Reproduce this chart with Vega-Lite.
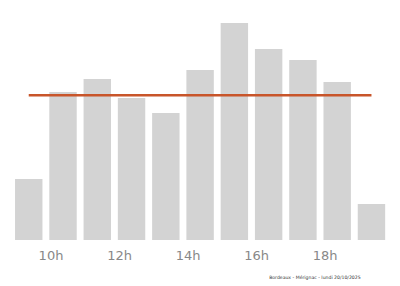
{
  "$schema": "https://vega.github.io/schema/vega-lite/v6.json",
  "width": 377,
  "height": 240,
  "autosize": {"type": "none"},
  "padding": {"left": 11.6, "top": 0, "right": 11.4, "bottom": 46},
  "background": "white",
  "config": {"view": {"stroke": null}},
  "title": {
    "text": "Bordeaux - Mérignac - lundi 20/10/2025",
    "orient": "bottom",
    "anchor": "end",
    "fontSize": 4.6,
    "fontWeight": "normal",
    "color": "#333",
    "font": "DejaVu Sans",
    "offset": 22,
    "dx": -28,
    "dy": -9
  },
  "data": {
    "values": [
      {"hour": 9, "value": 6.1},
      {"hour": 10, "value": 14.8},
      {"hour": 11, "value": 16.1},
      {"hour": 12, "value": 14.2},
      {"hour": 13, "value": 12.7},
      {"hour": 14, "value": 17.0},
      {"hour": 15, "value": 21.7},
      {"hour": 16, "value": 19.1},
      {"hour": 17, "value": 18.0},
      {"hour": 18, "value": 15.8},
      {"hour": 19, "value": 3.6}
    ]
  },
  "layer": [
    {
      "mark": {"type": "bar", "color": "#d3d3d3"},
      "encoding": {
        "x": {
          "field": "hour",
          "type": "ordinal",
          "scale": {"paddingInner": 0.2, "paddingOuter": 0.1},
          "axis": {
            "title": null,
            "domain": false,
            "ticks": false,
            "labelOffset": -12,
            "labelAngle": 0,
            "labelFontSize": 13,
            "labelColor": "#888",
            "labelFont": "DejaVu Sans",
            "labelPadding": 9,
            "labelExpr": "datum.value % 2 == 0 ? datum.value + 'h' : ''"
          }
        },
        "y": {
          "field": "value",
          "type": "quantitative",
          "scale": {"domain": [0, 24], "nice": false},
          "axis": null
        }
      }
    },
    {
      "mark": {"type": "rule", "color": "#c8552a", "strokeWidth": 2.5},
      "encoding": {
        "x": {"aggregate": "min", "field": "hour", "type": "ordinal"},
        "x2": {"aggregate": "max", "field": "hour"},
        "y": {"aggregate": "mean", "field": "value", "type": "quantitative"}
      }
    }
  ]
}
